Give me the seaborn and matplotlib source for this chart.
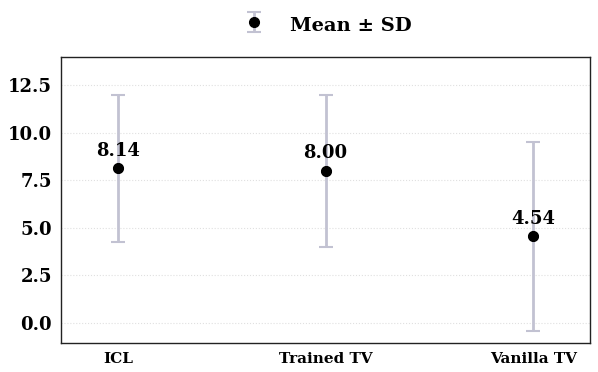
import numpy as np
import matplotlib
matplotlib.use('Agg')
import matplotlib.pyplot as plt
from matplotlib.legend_handler import HandlerErrorbar
import seaborn as sns

# data
methods = ['ICL', 'Trained TV', 'Vanilla TV']
means = [8.14, 8.00, 4.54]
sds = [3.88, 4.00, 4.97]

sns.set_style('white')
plt.rcParams['font.family'] = ['DejaVu Serif']
plt.rcParams['font.weight'] = 'bold'
plt.rcParams['text.color'] = 'black'
plt.rcParams['xtick.color'] = 'black'
plt.rcParams['ytick.color'] = 'black'

fig, ax = plt.subplots(figsize=(5.98, 3.72), dpi=100)
x = np.arange(len(methods))

err = ax.errorbar(x, means, yerr=sds, fmt='o', color='black', markersize=7,
                  ecolor='#c2c2d2', elinewidth=2, capsize=5, capthick=1.5,
                  zorder=2, label='Mean ± SD')
sns.scatterplot(x=x, y=means, color='black', s=55, linewidth=0, ax=ax,
                zorder=3, legend=False)

for xi, m in zip(x, means):
    ax.annotate(f'{m:.2f}', (xi, m), xytext=(0, 6), textcoords='offset points',
                ha='center', va='bottom', fontsize=13, fontweight='bold')

ax.set_xticks(x)
ax.set_xticklabels(methods, fontsize=11, fontweight='bold')
ax.set_yticks([0, 2.5, 5, 7.5, 10, 12.5])
ax.set_yticklabels(['0.0', '2.5', '5.0', '7.5', '10.0', '12.5'], fontsize=13, fontweight='bold')
ax.set_xlim(-0.275, 2.275)
ax.set_ylim(-1.07, 14.0)
ax.yaxis.grid(True, linestyle=':', color='#e0e0e0', linewidth=0.8)
ax.set_axisbelow(True)
ax.tick_params(axis='both', length=3, width=0.8, color='#222222')
for sp in ax.spines.values():
    sp.set_color('#222222')
    sp.set_linewidth(1.0)

ax.legend(handles=[err], loc='lower center', bbox_to_anchor=(0.5, 1.01), frameon=False,
          prop={'size': 14, 'weight': 'bold'}, handletextpad=1.1,
          handleheight=1.5, handlelength=1.5,
          handler_map={type(err): HandlerErrorbar(xerr_size=0.5, yerr_size=0.5)})

fig.subplots_adjust(left=0.102, right=0.987, top=0.847, bottom=0.078)
fig.savefig('out.png', dpi=100)
